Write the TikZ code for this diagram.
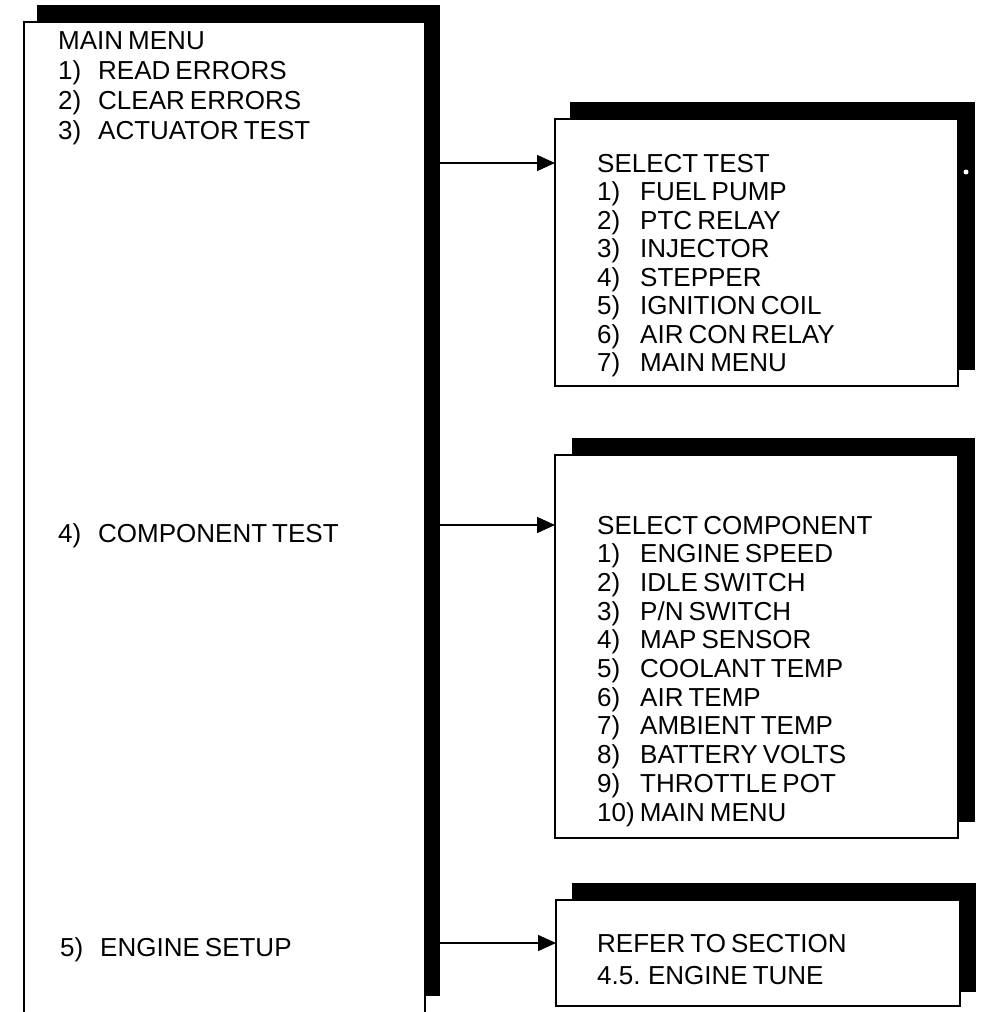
\documentclass[tikz,border=0pt]{standalone}
\usepackage{fontspec}
\setmainfont{Liberation Sans}[WordSpace=0.7]
\usetikzlibrary{arrows.meta}
\newcommand{\menufont}{\fontsize{26}{29}\selectfont}
\tikzset{
  shadowbox/.style={fill=black, draw=none, anchor=north west, inner sep=0pt, outer sep=0pt},
  frontbox/.style={fill=white, draw=black, line width=1.6pt, anchor=north west, inner sep=0pt, outer sep=0pt},
  txt/.style={anchor=base west, inner sep=0pt, font=\menufont},
  link/.style={-{Triangle[length=18pt,width=16pt]}, line width=1.5pt}
}
\begin{document}
\begin{tikzpicture}[x=1pt,y=-1pt]
\useasboundingbox (0,0) rectangle (982,1012);
% main menu box
\node[shadowbox, minimum width=403pt, minimum height=991pt] (mainsh) at (37,5) {};
\node[frontbox, minimum width=401pt, minimum height=991pt] (main) at (24,22) {};
\node[txt] (mtitle) at (58,49) {MAIN MENU};
\foreach \n/\t [count=\i] in {1)/READ ERRORS, 2)/CLEAR ERRORS, 3)/ACTUATOR TEST} {
  \node[txt] (mn\i) at (58,49+\i*30.3) {\n};
  \node[txt] (mi\i) at (98,49+\i*30.3) {\t};
}
\node[txt] (mn4) at (58,542) {4)};
\node[txt] (mi4) at (98,542) {COMPONENT TEST};
\node[txt] (mn5) at (60,956) {5)};
\node[txt] (mi5) at (100,956) {ENGINE SETUP};
% select test box
\node[shadowbox, minimum width=405pt, minimum height=268pt] (testsh) at (570,102) {};
\node[frontbox, minimum width=403pt, minimum height=267pt] (test) at (555,119) {};
\fill[white] (966,172) circle (2.5pt);
\node[txt] (ttitle) at (597,172) {SELECT TEST};
\foreach \n/\t [count=\i] in {1)/FUEL PUMP, 2)/PTC RELAY, 3)/INJECTOR, 4)/STEPPER, 5)/IGNITION COIL, 6)/AIR CON RELAY, 7)/MAIN MENU} {
  \node[txt] (tn\i) at (597,172+\i*28.5) {\n};
  \node[txt] (ti\i) at (640,172+\i*28.5) {\t};
}
% select component box
\node[shadowbox, minimum width=403pt, minimum height=384pt] (compsh) at (572,438) {};
\node[frontbox, minimum width=403pt, minimum height=383pt] (comp) at (555,455) {};
\node[txt] (ctitle) at (597,534) {SELECT COMPONENT};
\foreach \n/\t [count=\i] in {1)/ENGINE SPEED, 2)/IDLE SWITCH, 3)/P/N SWITCH, 4)/MAP SENSOR, 5)/COOLANT TEMP, 6)/AIR TEMP, 7)/AMBIENT TEMP, 8)/BATTERY VOLTS, 9)/THROTTLE POT} {
  \node[txt] (cn\i) at (597,534+\i*28.7) {\n};
}
\node[txt] (ci1) at (640,534+1*28.7) {ENGINE SPEED};
\node[txt] (ci2) at (640,534+2*28.7) {IDLE SWITCH};
\node[txt] (ci3) at (640,534+3*28.7) {P/N SWITCH};
\node[txt] (ci4) at (640,534+4*28.7) {MAP SENSOR};
\node[txt] (ci5) at (640,534+5*28.7) {COOLANT TEMP};
\node[txt] (ci6) at (640,534+6*28.7) {AIR TEMP};
\node[txt] (ci7) at (640,534+7*28.7) {AMBIENT TEMP};
\node[txt] (ci8) at (640,534+8*28.7) {BATTERY VOLTS};
\node[txt] (ci9) at (640,534+9*28.7) {THROTTLE POT};
\node[txt] (cn10) at (597,534+10*28.7) {10) MAIN MENU};
% engine setup box
\node[shadowbox, minimum width=404pt, minimum height=109pt] (engsh) at (572,883) {};
\node[frontbox, minimum width=404pt, minimum height=106pt] (eng) at (556,900) {};
\node[txt] (e1) at (597,952) {REFER TO SECTION};
\node[txt] (e2) at (597,984) {4.5. ENGINE TUNE};
% connectors
\coordinate (a1) at (440,163);
\coordinate (a2) at (440,525);
\coordinate (a3) at (440,943);
\draw[link] (a1) -- (a1 -| test.west);
\draw[link] (a2) -- (a2 -| comp.west);
\draw[link] (a3) -- (a3 -| eng.west);
\end{tikzpicture}
\end{document}
